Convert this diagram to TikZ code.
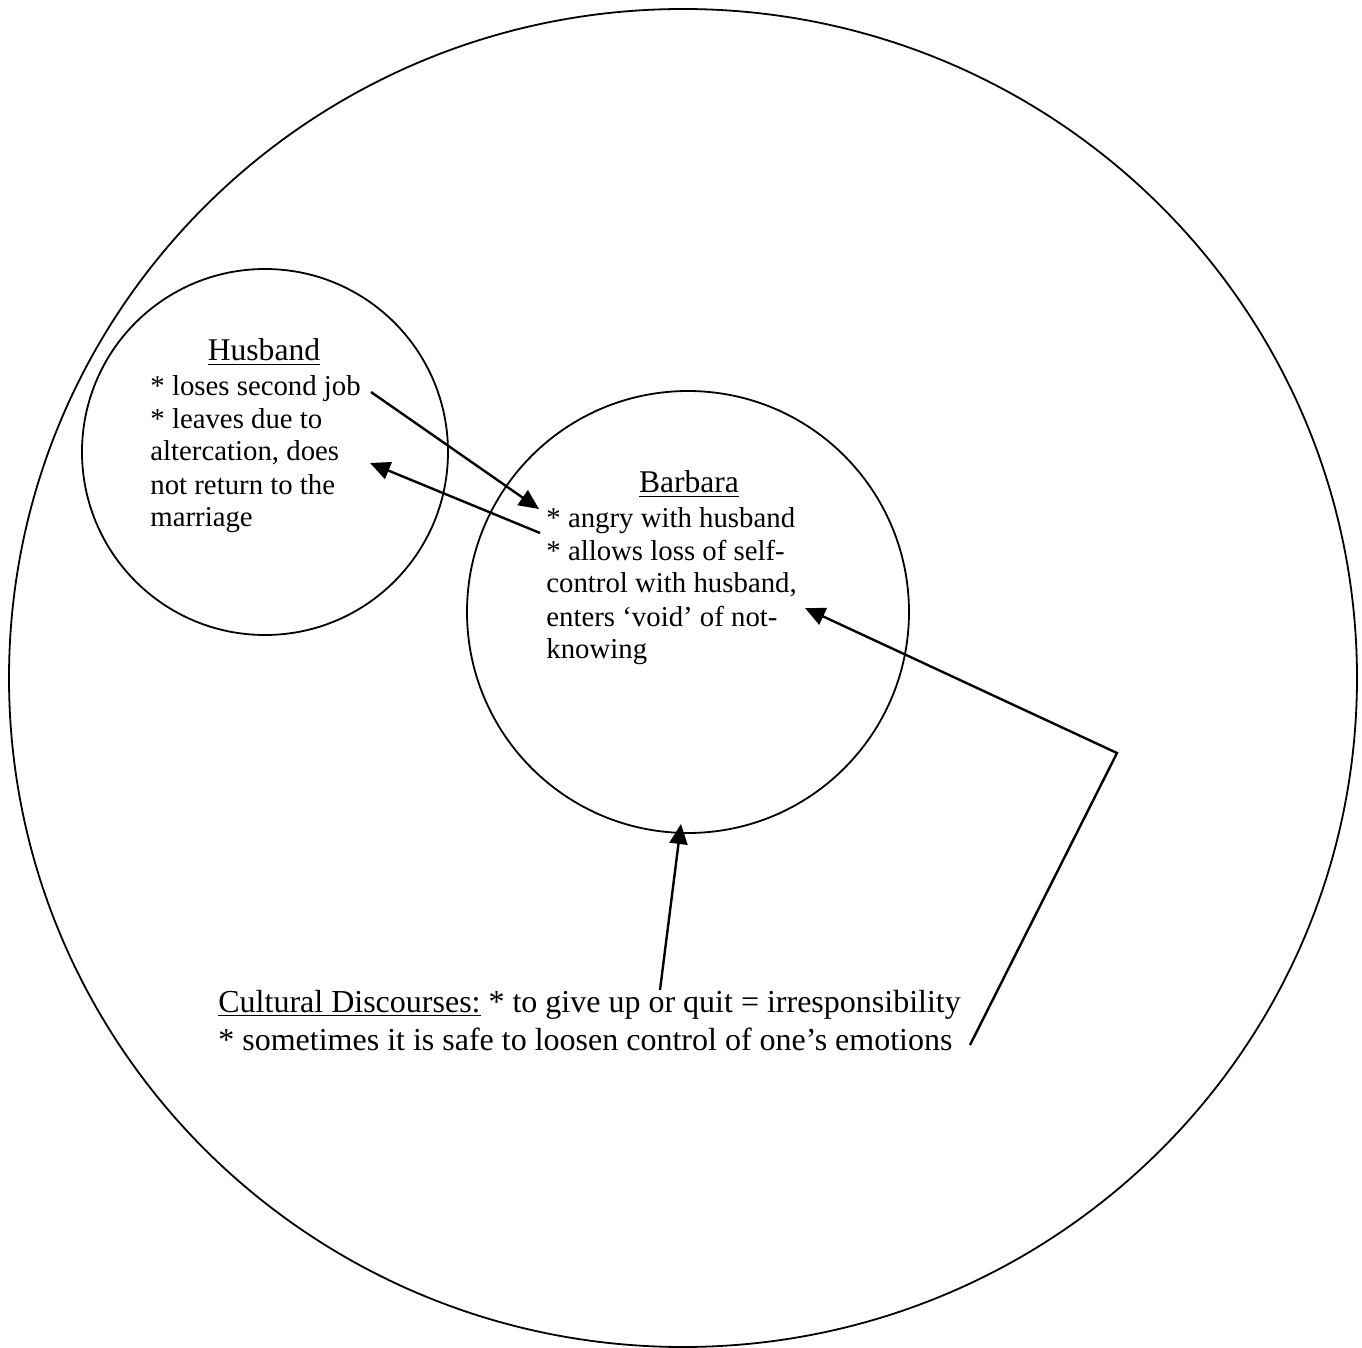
\documentclass[tikz,border=0pt]{standalone}
\usepackage{fontspec}
\setmainfont{Liberation Serif}
\usetikzlibrary{arrows.meta,shapes.geometric}
\begin{document}
\begin{tikzpicture}[x=0.5pt,y=-0.5pt,
  ring/.style={draw, line width=0.9pt, circle, inner sep=0pt},
  body/.style={anchor=base west, inner sep=0pt, align=left,
    font=\fontsize{14.4}{16.5}\selectfont},
  title/.style={anchor=base, inner sep=0pt, font=\fontsize{15.8}{18}\selectfont},
  link/.style={line width=1.2pt, -{Triangle[length=10pt,width=9pt]}}]
\useasboundingbox (0,0) rectangle (1362,1348);
\fill[white] (0,0) rectangle (1362,1348);

% context and the two persons
\node[draw, line width=0.9pt, ellipse, inner sep=0pt,
      minimum width=674pt, minimum height=669pt] (world) at (683,678) {};
\node[ring, minimum size=183pt] (husband) at (265,452) {};
\node[ring, minimum size=221pt] (barbara) at (688,612) {};

% husband text (anchored on the baseline of its last line)
\node[title] (htitle) at (264,361) {\underline{Husband}};
\node[body] (htext) at (150,527) {* loses second job\\* leaves due to\\altercation, does\\not return to the\\marriage};

% barbara text
\node[title] (btitle) at (689,493) {\underline{Barbara}};
\node[body] (btext) at (546,659) {* angry with husband\\* allows loss of self-\\control with husband,\\enters `void' of not-\\knowing};

% cultural discourses
\node[body, font=\fontsize{16}{19}\selectfont] (culture) at (218,1050)
  {\underline{Cultural Discourses:} * to give up or quit = irresponsibility\\* sometimes it is safe to loosen control of one's emotions};

% connector end points
\coordinate (hjob) at (371,392);
\coordinate (bangry) at (539,509);
\coordinate (bloss) at (540,533);
\coordinate (halter) at (370,463);
\coordinate (cquit) at (660,990);
\coordinate (bbottom) at (681,824);
\coordinate (csafe) at (970,1045);
\coordinate (bend) at (1117,753);
\coordinate (bvoid) at (805,608);

\draw[link] (hjob) -- (bangry);
\draw[link] (bloss) -- (halter);
\draw[link] (cquit) -- (bbottom);
\draw[link] (csafe) -- (bend) -- (bvoid);
\end{tikzpicture}
\end{document}
